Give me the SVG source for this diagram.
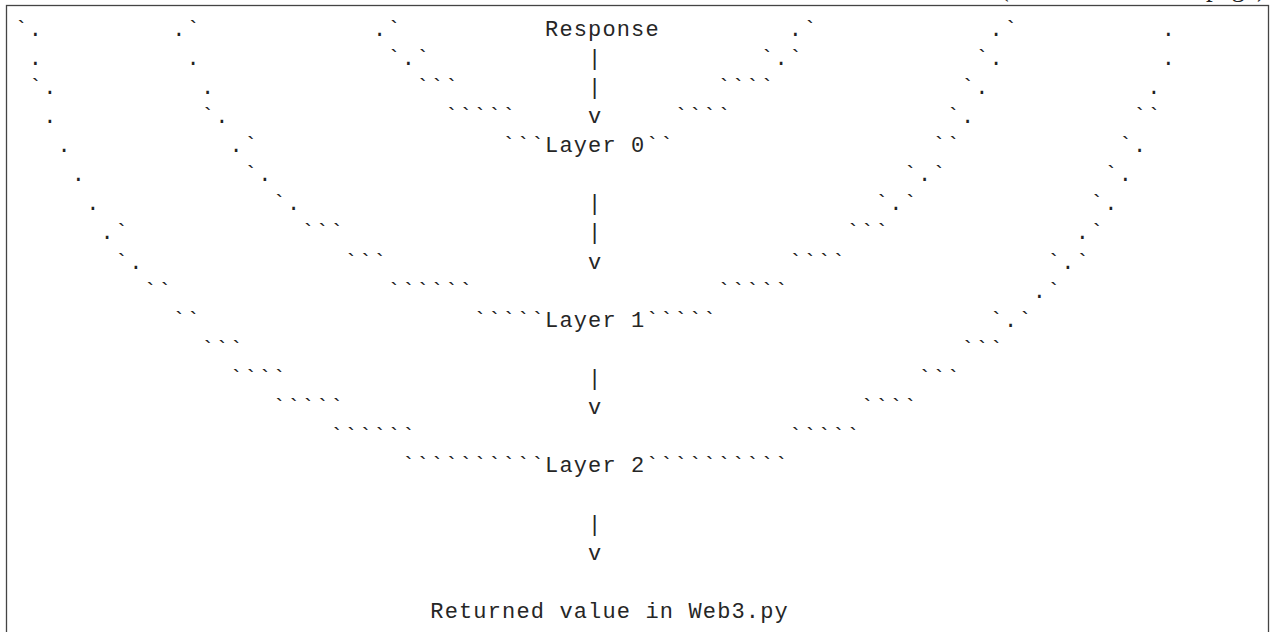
<svg xmlns="http://www.w3.org/2000/svg" width="1273" height="632" viewBox="0 0 1273 632">
<style>
.t{font-family:"Liberation Mono","Courier New",monospace;font-size:22px;letter-spacing:1.14px;fill:#262626}
.art{font-family:"Liberation Mono","Courier New",monospace;font-size:22px;letter-spacing:1.14px;fill:#222}
.cont{font-family:"Liberation Serif","Times New Roman",serif;font-size:27px;fill:#222}
.frame{fill:none;stroke:#444;stroke-width:1.3}
</style>
<rect x="0" y="0" width="1273" height="632" fill="#fff"/>
<g id="frame">
<rect class="frame" x="6.5" y="5.5" width="1262" height="700"/>
<text class="cont" x="1266" y="-4" text-anchor="end">(continues on next page)</text>
</g>
<g id="curves" class="art">
<text y="35.7"><tspan x="14.49">`.</tspan><tspan x="172.23">.`</tspan><tspan x="372.99">.`</tspan><tspan x="788.85">.`</tspan><tspan x="989.61">.`</tspan><tspan x="1161.69">.</tspan></text>
<text y="64.81"><tspan x="28.83">.</tspan><tspan x="186.57">.</tspan><tspan x="387.33">`.`</tspan><tspan x="760.17">`.`</tspan><tspan x="975.27">`.</tspan><tspan x="1161.69">.</tspan></text>
<text y="93.92"><tspan x="28.83">`.</tspan><tspan x="200.91">.</tspan><tspan x="416.01">```</tspan><tspan x="717.15">````</tspan><tspan x="960.93">`.</tspan><tspan x="1147.35">.</tspan></text>
<text y="123.03"><tspan x="43.17">.</tspan><tspan x="200.91">`.</tspan><tspan x="444.69">`````</tspan><tspan x="674.13">````</tspan><tspan x="946.59">`.</tspan><tspan x="1133.01">``</tspan></text>
<text y="152.14"><tspan x="57.51">.</tspan><tspan x="229.59">.`</tspan><tspan x="502.05">```</tspan><tspan x="645.45">``</tspan><tspan x="932.25">``</tspan><tspan x="1118.67">`.</tspan></text>
<text y="181.25"><tspan x="71.85">.</tspan><tspan x="243.93">`.</tspan><tspan x="903.57">`.`</tspan><tspan x="1104.33">`.</tspan></text>
<text y="210.36"><tspan x="86.19">.</tspan><tspan x="272.61">`.</tspan><tspan x="874.89">`.`</tspan><tspan x="1089.99">`.</tspan></text>
<text y="239.47"><tspan x="100.53">.`</tspan><tspan x="301.29">```</tspan><tspan x="846.21">```</tspan><tspan x="1075.65">.`</tspan></text>
<text y="268.58"><tspan x="114.87">`.</tspan><tspan x="344.31">```</tspan><tspan x="788.85">````</tspan><tspan x="1046.97">`.`</tspan></text>
<text y="297.69"><tspan x="143.55">``</tspan><tspan x="387.33">``````</tspan><tspan x="717.15">`````</tspan><tspan x="1032.63">.`</tspan></text>
<text y="326.8"><tspan x="172.23">``</tspan><tspan x="473.37">`````</tspan><tspan x="645.45">`````</tspan><tspan x="989.61">`.`</tspan></text>
<text y="355.91"><tspan x="200.91">```</tspan><tspan x="960.93">```</tspan></text>
<text y="385.02"><tspan x="229.59">````</tspan><tspan x="917.91">```</tspan></text>
<text y="414.13"><tspan x="272.61">`````</tspan><tspan x="860.55">````</tspan></text>
<text y="443.24"><tspan x="329.97">``````</tspan><tspan x="788.85">`````</tspan></text>
<text y="472.35"><tspan x="401.67">``````````</tspan><tspan x="645.45">``````````</tspan></text>
</g>
<g id="connectors" class="t">
<text x="588.09" y="64.81">|</text>
<text x="588.09" y="93.92">|</text>
<text x="588.09" y="123.03">v</text>
<text x="588.09" y="210.36">|</text>
<text x="588.09" y="239.47">|</text>
<text x="588.09" y="268.58">v</text>
<text x="588.09" y="385.02">|</text>
<text x="588.09" y="414.13">v</text>
<text x="588.09" y="530.57">|</text>
<text x="588.09" y="559.68">v</text>
</g>
<g id="node-response"><text class="t" x="545.07" y="35.7">Response</text></g>
<g id="node-layer0"><text class="t" x="545.07" y="152.14">Layer 0</text></g>
<g id="node-layer1"><text class="t" x="545.07" y="326.8">Layer 1</text></g>
<g id="node-layer2"><text class="t" x="545.07" y="472.35">Layer 2</text></g>
<g id="node-returned"><text class="t" x="430.35" y="617.9">Returned value in Web3.py</text></g>
</svg>
